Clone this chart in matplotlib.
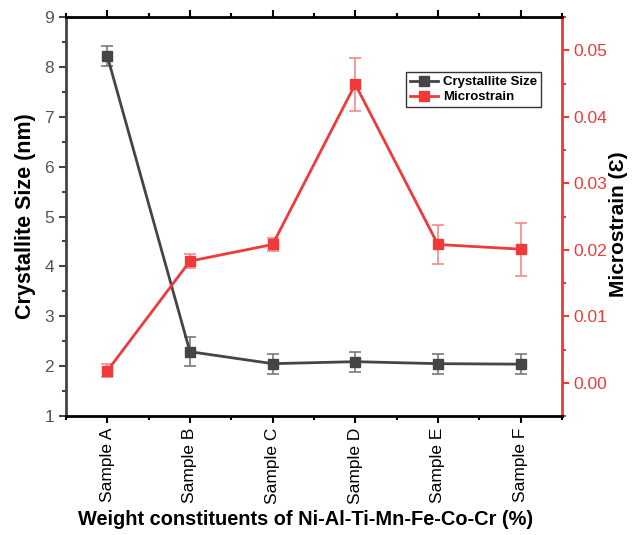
import numpy as np
import matplotlib
matplotlib.use("Agg")
from matplotlib import pyplot as plt
from matplotlib.ticker import MultipleLocator

plt.rcParams['font.family'] = ['Liberation Sans', 'DejaVu Sans']

# Data
samples = ['Sample A', 'Sample B', 'Sample C', 'Sample D', 'Sample E', 'Sample F']
crystallite = [8.22, 2.29, 2.05, 2.09, 2.05, 2.04]
crystallite_err = [0.2, 0.29, 0.2, 0.2, 0.2, 0.2]
microstrain = [0.0018, 0.0183, 0.0208, 0.0449, 0.0208, 0.0201]
microstrain_err = [0.001, 0.001, 0.001, 0.004, 0.003, 0.004]

gray = '#454545'
red = '#f03a3a'

fig = plt.figure(figsize=(6.32, 5.35), dpi=100)
ax = fig.add_axes([0.1044, 0.2224, 0.7846, 0.7456])
ax2 = ax.twinx()

x = np.arange(len(samples))

l1 = ax.errorbar(x, crystallite, yerr=crystallite_err, color=gray, marker='s', markersize=7,
                 linewidth=2, ecolor='#7a7a7a', elinewidth=1.2, capsize=4, capthick=1.2,
                 label='Crystallite Size')
l2 = ax2.errorbar(x, microstrain, yerr=microstrain_err, color=red, marker='s', markersize=7,
                  linewidth=2, ecolor='#f38a8a', elinewidth=1.2, capsize=4, capthick=1.2,
                  label='Microstrain')

ax.set_xlim(-0.5, 5.5)
ax.set_ylim(1, 9)
ax2.set_ylim(-0.005, 0.055)

ax.set_xticks(x)
ax.set_xticklabels(samples, rotation=90, fontsize=12.5)
ax.xaxis.set_minor_locator(MultipleLocator(0.5))
ax.yaxis.set_major_locator(MultipleLocator(1))
ax.yaxis.set_minor_locator(MultipleLocator(0.5))
ax2.yaxis.set_minor_locator(MultipleLocator(0.005))
ax2.set_yticks([0.0, 0.01, 0.02, 0.03, 0.04, 0.05])
ax2.set_yticklabels(['0.00', '0.01', '0.02', '0.03', '0.04', '0.05'])

ax.tick_params(axis='x', which='both', direction='out', top=True, width=1.5, colors='black',
               labelcolor='black')
ax.tick_params(axis='x', which='major', length=5)
ax.tick_params(axis='x', which='minor', length=3)
ax.tick_params(axis='y', which='both', direction='out', colors=gray, width=1.5, labelsize=12.5,
               labelcolor='#555555')
ax.tick_params(axis='y', which='major', length=5)
ax.tick_params(axis='y', which='minor', length=3)
ax2.tick_params(axis='y', which='both', direction='out', colors=red, width=1.5, labelsize=12.5)
ax2.tick_params(axis='y', which='major', length=5)
ax2.tick_params(axis='y', which='minor', length=3)

for s in ['top', 'bottom']:
    ax2.spines[s].set_linewidth(2)
    ax2.spines[s].set_color('black')
ax2.spines['left'].set_color(gray)
ax2.spines['left'].set_linewidth(2)
ax2.spines['right'].set_color(red)
ax2.spines['right'].set_linewidth(2)

ax.set_ylabel('Crystallite Size (nm)', fontsize=15.5, fontweight='bold', labelpad=6)
ax2.set_ylabel('Microstrain (\u0190)', fontsize=15, fontweight='bold')
ax2.yaxis.set_label_coords(1.096, 0.48)
ax.set_xlabel('Weight constituents of Ni-Al-Ti-Mn-Fe-Co-Cr (%)', fontsize=14.4,
              fontweight='bold', labelpad=5)
ax.xaxis.set_label_coords(0.483, -0.235)

handles = [l1[0], l2[0]]
leg = ax2.legend(handles, ['Crystallite Size', 'Microstrain'], loc='upper right',
                 bbox_to_anchor=(0.958, 0.862), frameon=True, fancybox=False, edgecolor='black',
                 prop={'weight': 'bold', 'size': 9.5}, handlelength=2.1, borderpad=0.3,
                 labelspacing=0.2, handletextpad=0.4, borderaxespad=0)
leg.get_frame().set_linewidth(1)

fig.savefig('out.png', dpi=100)
